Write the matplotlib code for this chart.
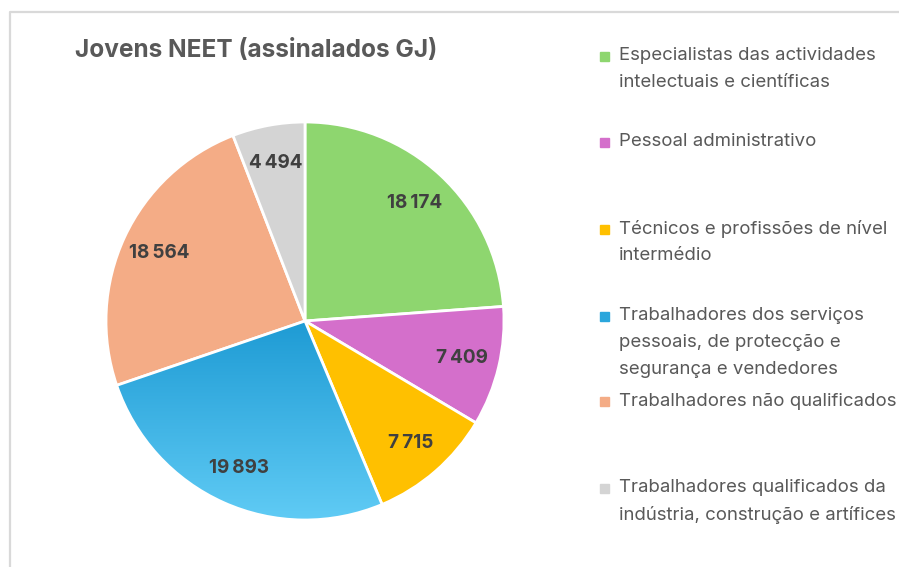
import numpy as np
import matplotlib
matplotlib.use('Agg')
import matplotlib.pyplot as plt
from matplotlib.colors import LinearSegmentedColormap

plt.rcParams['font.family'] = ['Inter', 'DejaVu Sans']

# data
categories = [
    'Especialistas das actividades\nintelectuais e científicas',
    'Pessoal administrativo',
    'Técnicos e profissões de nível\nintermédio',
    'Trabalhadores dos serviços\npessoais, de protecção e\nsegurança e vendedores',
    'Trabalhadores não qualificados',
    'Trabalhadores qualificados da\nindústria, construção e artífices',
]
values = [18174, 7409, 7715, 19893, 18564, 4494]
colors = ['#8ED66F', '#D46FCB', '#FFC000', '#3AAEE0', '#F4AC86', '#D4D4D4']

W, H = 899, 567
fig = plt.figure(figsize=(W / 100, H / 100), dpi=100)

# chart frame
frame = fig.add_axes([0, 0, 1, 1])
frame.set_xlim(0, W)
frame.set_ylim(H, 0)
frame.axis('off')
frame.plot([9.5, 9.5, W], [H, 11.5, 11.5], color='#D9D9D9', lw=1.6)

fig.text(75 / W, 1 - 51 / H, 'Jovens NEET (assinalados GJ)', fontsize=17.6,
         fontweight='bold', color='#595959', va='center', ha='left')

# pie
cx, cy, r = 305, 321, 199
ax = fig.add_axes([(cx - r) / W, (H - cy - r) / H, 2 * r / W, 2 * r / H])


def fmt(v):
    return f'{v:,}'.replace(',', '\u2009')


wedges, _ = ax.pie(values, colors=colors, startangle=90, counterclock=False,
                   radius=1, wedgeprops=dict(edgecolor='white', linewidth=2))
ax.set_xlim(-1.0, 1.0)
ax.set_ylim(-1.0, 1.0)
ax.set_aspect('equal')

# gradient for the blue slice
blue = wedges[3]
cmap = LinearSegmentedColormap.from_list('b', ['#1E9BD4', '#60CBF5'])
grad = np.linspace(0, 1, 256).reshape(-1, 1)
im = ax.imshow(grad, cmap=cmap, extent=[-1, 1, -1.0, -0.0], origin='upper',
               aspect='auto', zorder=blue.get_zorder() + 0.1)
im.set_clip_path(blue)
blue.set_zorder(im.get_zorder() + 0.1)
blue.set_facecolor('none')

# data labels
total = sum(values)
ang = 90
for v in values:
    span = 360 * v / total
    mid = np.deg2rad(ang - span / 2)
    ang -= span
    ax.text(0.81 * np.cos(mid), 0.81 * np.sin(mid), fmt(v), ha='center',
            va='center', fontsize=13.6, fontweight='bold', color='#404040',
            zorder=10)

# legend
line_h = 26.8
first_y = [56, 142, 229, 316, 401, 488]
leg_colors = ['#8ED66F', '#D46FCB', '#FFC000', '#2AA6DC', '#F4AC86', '#D4D4D4']
for lab, y0, c in zip(categories, first_y, leg_colors):
    frame.add_patch(plt.Rectangle((600, y0 - 4.5), 9, 9, color=c))
    for i, line in enumerate(lab.split('\n')):
        frame.text(619, y0 + i * line_h, line, fontsize=13.4, color='#595959',
                   va='center', ha='left')

fig.savefig('out.png', dpi=100)
